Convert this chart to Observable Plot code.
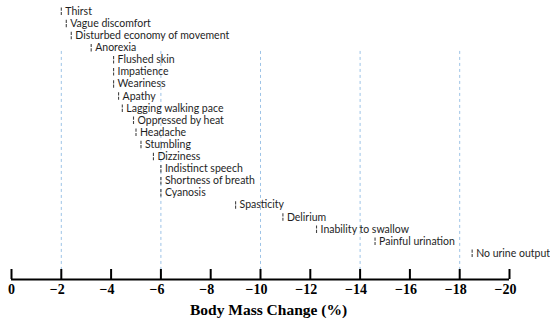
<!DOCTYPE html>
<html><head><meta charset="utf-8">
<script src="https://cdn.jsdelivr.net/npm/d3@7"></script>
<script src="https://cdn.jsdelivr.net/npm/@observablehq/plot@0.6"></script>
<style>body{margin:0;background:#fff;} svg{display:block;}</style>
</head><body><div id="chart"></div>
<script>
const symptoms = ["Thirst", "Vague discomfort", "Disturbed economy of movement", "Anorexia",
  "Flushed skin", "Impatience", "Weariness", "Apathy", "Lagging walking pace",
  "Oppressed by heat", "Headache", "Stumbling", "Dizziness", "Indistinct speech",
  "Shortness of breath", "Cyanosis", "Spasticity", "Delirium", "Inability to swallow",
  "Painful urination", "No urine output"];
const bodyMassChange = [-2.0, -2.2, -2.4, -3.2, -4.1, -4.1, -4.1, -4.3, -4.45, -4.9,
  -5.0, -5.2, -5.7, -6.0, -6.0, -6.0, -9.0, -10.9, -12.25, -14.6, -18.5];
const xTicks = [0, -2, -4, -6, -8, -10, -12, -14, -16, -18, -20];
const refLines = [-2, -6, -10, -14, -18];
const axisTitle = "Body Mass Change (%)";

const rows = symptoms.map((s, i) => ({symptom: s, change: bodyMassChange[i], row: i}));
const axisRow = 22.15;
const rowPx = 12.1;
const serif = "'Liberation Serif', 'Times New Roman', serif";
const tickStyle = {anchor: "bottom", tickSize: 0, tickPadding: 5, fontSize: 14, fontWeight: "bold", fontFamily: serif, fill: "#000", label: null};

const chart = Plot.plot({
  width: 550, height: 322,
  marginLeft: 11, marginRight: 41, marginTop: 11, marginBottom: 43,
  style: {background: "#fff"},
  x: {domain: [0, -20]},
  y: {domain: [0, axisRow], reverse: true, axis: null},
  marks: [
    Plot.ruleX(refLines, {x: d => d, y1: 3.3, y2: axisRow, stroke: "#9dc3e6", strokeWidth: 1, strokeDasharray: "3,3"}),
    Plot.ruleX(rows, {x: "change", y1: d => d.row - 0.28, y2: d => d.row + 0.34, stroke: "#444", strokeWidth: 1.1, strokeDasharray: "3.2,1.2"}),
    Plot.text(rows, {x: "change", y: "row", text: "symptom", textAnchor: "start", dx: 4, fontSize: 10.5, fontFamily: "Lato", fill: "#1e1e1e"}),
    Plot.ruleY([axisRow], {x1: 0, x2: -20, stroke: "#000", strokeWidth: 2}),
    Plot.ruleX(xTicks, {x: d => d, y1: axisRow, y2: axisRow - 10 / rowPx, stroke: "#000", strokeWidth: 2}),
    Plot.axisX(xTicks.filter(d => d === 0), tickStyle),
    Plot.axisX(xTicks.filter(d => d !== 0), {...tickStyle, dx: -4}),
    Plot.text([axisTitle], {frameAnchor: "bottom", dy: 35, dx: 8, fontSize: 15.5, fontWeight: "bold", fontFamily: serif, fill: "#000"})
  ]
});
document.getElementById("chart").append(chart);
</script>
</body></html>
